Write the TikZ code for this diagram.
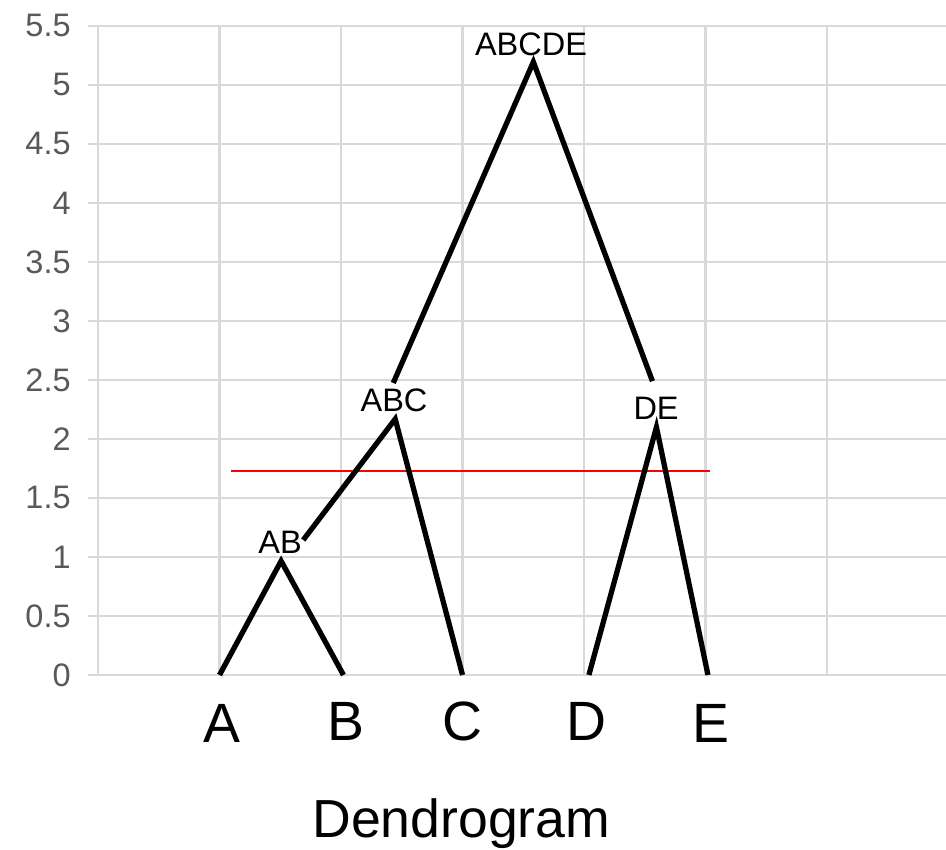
\documentclass[tikz,border=0pt]{standalone}
\usepackage{fontspec}
\setmainfont{Liberation Sans}
\usepackage{xcolor}
\usepackage{tikz}

\definecolor{gridgray}{HTML}{D9D9D9}
\definecolor{labelgray}{HTML}{595959}

\begin{document}
\begin{tikzpicture}[x=2.43cm,y=2.36cm,
  gridline/.style={gridgray,line width=1.3pt},
  branch/.style={black,line width=3pt},
  cutline/.style={red,line width=1.2pt},
  ylabel/.style={font=\fontsize{18.5}{18.5}\selectfont,text=labelgray,anchor=east,inner sep=0pt},
  leaf/.style={font=\fontsize{31.5}{31.5}\selectfont,anchor=base,inner sep=0pt},
  merge/.style={font=\fontsize{18.5}{18.5}\selectfont,inner sep=0pt}]
\useasboundingbox (-0.8066,-1.483) rectangle (6.979,5.720);
% grid and axis
\foreach \y in {0,0.5,...,5.5} \draw[gridline] (-0.082,\y) -- (6.979,\y);
\foreach \x in {0,...,6} \draw[gridline] (\x,0) -- (\x,5.5);
\foreach \y/\t [count=\i] in {0/0,0.5/0.5,1/1,1.5/1.5,2/2,2.5/2.5,3/3,3.5/3.5,4/4,4.5/4.5,5/5,5.5/5.5}
  \node[ylabel] (ytick\i) at (-0.222,\y) {\t};
% leaves
\coordinate (A) at (1,0);
\coordinate (B) at (2.02,0);
\coordinate (C) at (3,0);
\coordinate (D) at (4.04,0);
\coordinate (E) at (5.02,0);
\node[leaf] (labA) at (1.02,-0.568) {A};
\node[leaf] (labB) at (2.04,-0.551) {B};
\node[leaf] (labC) at (3.00,-0.551) {C};
\node[leaf] (labD) at (4.02,-0.551) {D};
\node[leaf] (labE) at (5.045,-0.568) {E};
% merges
\coordinate (AB) at (1.507,0.966);
\coordinate (ABC) at (2.446,2.169);
\coordinate (DE) at (4.596,2.10);
\coordinate (ABCDE) at (3.583,5.195);
\coordinate (ABup) at (1.689,1.144);
\coordinate (ABCup) at (2.43,2.475);
\coordinate (DEup) at (4.563,2.49);
\node[merge] (labAB) at (1.498,1.127) {AB};
\node[merge] (labABC) at (2.436,2.331) {ABC};
\node[merge] (labDE) at (4.593,2.263) {DE};
\node[merge] (labABCDE) at (3.564,5.347) {ABCDE};
% cut
\coordinate (cutL) at (1.095,1.729);
\coordinate (cutR) at (5.033,1.729);
\draw[cutline] (cutL) -- (cutR);
% tree
\draw[branch] (A) -- (AB) -- (B);
\draw[branch] (ABup) -- (ABC) -- (C);
\draw[branch] (ABCup) -- (ABCDE) -- (DEup);
\draw[branch] (D) -- (DE) -- (E);
\node[anchor=base,font=\fontsize{30.5}{30.5}\selectfont,inner sep=0pt] (title) at (2.99,-1.373) {Dendrogram};
\end{tikzpicture}
\end{document}
